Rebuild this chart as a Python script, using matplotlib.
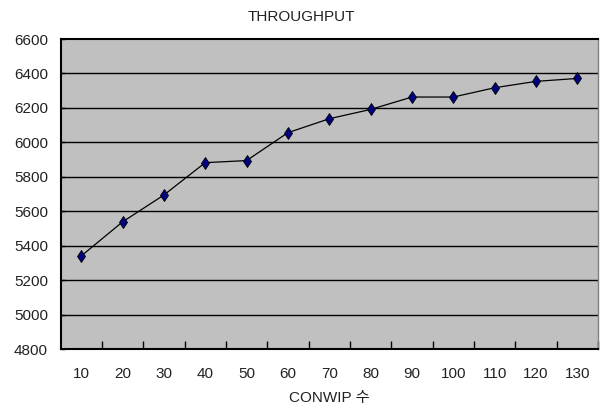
import numpy as np
import matplotlib
matplotlib.use("Agg")
import matplotlib.pyplot as plt

plt.rcParams['font.family'] = ['Liberation Sans', 'Noto Sans CJK KR', 'DejaVu Sans']

# CONWIP level vs throughput
conwip = [10, 20, 30, 40, 50, 60, 70, 80, 90, 100, 110, 120, 130]
throughput = [5340, 5538, 5694, 5882, 5894, 6056, 6137, 6191, 6263, 6263, 6317, 6354, 6371]
yticks = [4800, 5000, 5200, 5400, 5600, 5800, 6000, 6200, 6400, 6600]

fig = plt.figure(figsize=(6.02, 4.11), dpi=100)
ax = fig.add_axes([60.5/602, 1 - 349/411, (598 - 60.5)/602, (349 - 39)/411])
ax.set_facecolor('#c0c0c0')

x = np.arange(len(conwip))
ax.plot(x, throughput, color='black', lw=0.9, marker='d', markersize=6.5,
        markerfacecolor='#000080', markeredgecolor='black', markeredgewidth=0.6, zorder=3)

ax.set_xlim(-0.5, len(conwip) - 0.5)
ax.set_ylim(yticks[0], yticks[-1])
ax.set_yticks(yticks)
for yv in yticks[1:-1]:
    ax.axhline(yv, color='black', lw=1.0, zorder=1)

# ticks sit between categories, labels at category centres
ax.set_xticks(x + 0.5, minor=False)
ax.set_xticklabels([])
ax.set_xticks(x, minor=True)
ax.set_xticklabels([str(c) for c in conwip], minor=True)
ax.tick_params(axis='x', which='major', direction='in', length=6, width=1, color='black')
ax.tick_params(axis='x', which='minor', length=0, pad=13, labelsize=11, labelcolor='#222222')
ax.tick_params(axis='y', direction='in', length=3, width=1, pad=9, labelsize=11, labelcolor='#222222')

for side in ['left', 'bottom', 'top']:
    ax.spines[side].set_color('black')
    ax.spines[side].set_linewidth(1.5)
ax.spines['right'].set_color('#808080')
ax.spines['right'].set_linewidth(1.0)

ax.set_xlabel('CONWIP 수', fontsize=11, labelpad=7, color='#222222')
fig.text(0.5, 1 - 17/411, 'THROUGHPUT', ha='center', va='center', fontsize=11, color='#222222')

fig.savefig('out.png', dpi=100)
